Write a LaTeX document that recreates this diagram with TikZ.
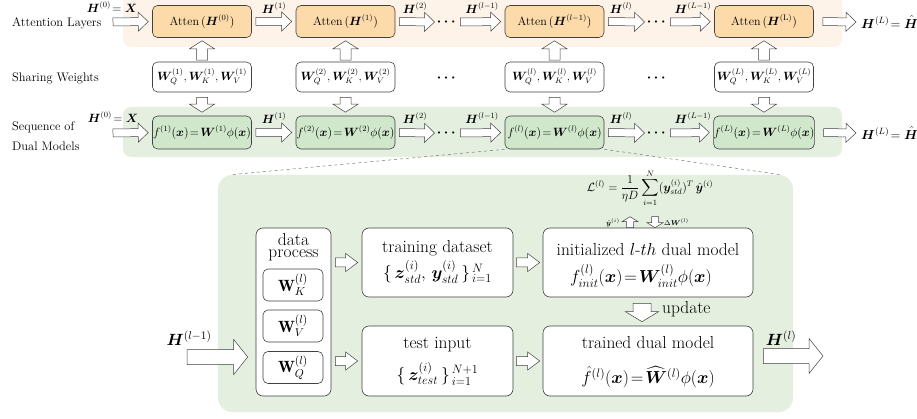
\RequirePackage{fix-cm}
\documentclass[tikz,border=0pt]{standalone}
\usepackage{amsmath,amssymb,bm}
\usepackage{fontspec}
\usetikzlibrary{calc}

\definecolor{attfill}{RGB}{252,218,170}
\definecolor{attband}{RGB}{253,243,233}
\definecolor{dualfill}{RGB}{208,231,203}
\definecolor{dualband}{RGB}{228,239,223}
\definecolor{edge}{RGB}{65,65,65}
\definecolor{dashgray}{RGB}{120,120,120}

\newcommand\rowfont{\fontsize{12.4}{14}\selectfont}
\newcommand\boxfont{\fontsize{12}{14}\selectfont}
\newcommand\panelfont{\fontsize{17.4}{20}\selectfont}
\newcommand\tinyfont{\fontsize{7}{8}\selectfont}

% hollow block arrows between two points
\pgfkeys{/fatarr/.cd,
  shaft/.store in=\faShaft, head/.store in=\faHead, len/.store in=\faLen,
  gapa/.store in=\faGapA, gapb/.store in=\faGapB,
  shaft=8pt, head=19pt, len=10pt, gapa=4pt, gapb=4pt}
\newcommand\fatarrow[3][]{%
  \begingroup
  \pgfkeys{/fatarr/.cd,#1}%
  \path ($(#2)!\faGapA!(#3)$) coordinate (fas)
        ($(#3)!\faGapB!(#2)$) coordinate (fae);
  \path ($(fae)!\faLen!(fas)$) coordinate (fam);
  \draw[fatline]
    ($(fas)!\faShaft/2!90:(fae)$) -- ($(fam)!\faShaft/2!-90:(fas)$) --
    ($(fam)!\faHead/2!-90:(fas)$) -- (fae) --
    ($(fam)!\faHead/2!90:(fas)$) -- ($(fam)!\faShaft/2!90:(fas)$) --
    ($(fas)!\faShaft/2!-90:(fae)$) -- cycle;
  \endgroup}

\tikzset{
  fatline/.style={draw=edge, fill=white, line width=0.5pt, line join=miter},
  box/.style={draw=edge, rounded corners=5pt, line width=0.6pt, inner sep=0pt, font=\boxfont},
  attbox/.style={box, fill=attfill, minimum width=99pt, minimum height=32pt},
  dualbox/.style={box, fill=dualfill, minimum width=99pt, minimum height=33pt},
  wbox/.style={box, fill=white, minimum width=99pt, minimum height=30pt},
  pbox/.style={box, fill=white, rounded corners=7pt},
  rowlabel/.style={font=\rowfont, inner sep=0pt, anchor=west},
  hlabel/.style={font=\boxfont, inner sep=0pt},
  dotnode/.style={font=\fontsize{14}{16}\selectfont, inner sep=2pt},
  ptext/.style={font=\panelfont, inner sep=0pt},
}

\begin{document}
\begin{tikzpicture}[x=1pt,y=-1pt]
\useasboundingbox (0,0) rectangle (917,419);

% background bands
\fill[attband, rounded corners=8pt] (123,-12) rectangle (842,47);
\fill[dualband, rounded corners=8pt] (123,107) rectangle (842,157);

% ---------- attention layers ----------
\node[rowlabel] (lblA) at (12,23) {Attention Layers};
\coordinate (ain) at (109,22);
\node[attbox] (a1) at (202,21.5) {Atten$\,(\bm H^{(0)})$};
\node[attbox] (a2) at (345.5,21.5) {Atten$\,(\bm H^{(1)})$};
\node[dotnode] (da1) at (447.5,22) {$\bm\cdots$};
\node[attbox] (a3) at (554.5,21.5) {Atten$\,(\bm H^{(l-1)})$};
\node[dotnode] (da2) at (657.5,22) {$\bm\cdots$};
\node[attbox] (a4) at (764,21.5) {Atten$\,(\bm H^{(\mathrm{L})})$};
\node[hlabel, anchor=west, font=\fontsize{13}{15}\selectfont] (aout) at (861,22) {$\bm H^{(L)}\!=\hat{\bm H}$};

\fatarrow{ain}{a1.west}
\fatarrow{a1.east}{a2.west}
\fatarrow[gapb=0pt]{a2.east}{da1.west}
\fatarrow[gapa=0pt]{da1.east}{a3.west}
\fatarrow[gapb=0pt]{a3.east}{da2.west}
\fatarrow[gapa=0pt]{da2.east}{a4.west}
\fatarrow[gapa=9pt,gapb=5pt]{a4.east}{aout.west}

\node[hlabel] (la0) at (112,7) {$\bm H^{(0)}\!=\bm X$};
\node[hlabel] (la1) at (274,8) {$\bm H^{(1)}$};
\node[hlabel] (la2) at (415,8) {$\bm H^{(2)}$};
\node[hlabel] (la3) at (482,8) {$\bm H^{(l-1)}$};
\node[hlabel] (la4) at (621,8) {$\bm H^{(l)}$};
\node[hlabel] (la5) at (693,8) {$\bm H^{(L-1)}$};

% ---------- sharing weights ----------
\node[rowlabel] (lblB) at (12,78) {Sharing Weights};
\node[wbox] (w1) at (202,77) {$\bm W_Q^{(1)},\bm W_K^{(1)},\bm W_V^{(1)}$};
\node[wbox] (w2) at (345.5,77) {$\bm W_Q^{(2)},\bm W_K^{(2)},\bm W_V^{(2)}$};
\node[dotnode] (dw1) at (447.5,78) {$\bm\cdots$};
\node[wbox] (w3) at (554.5,77) {$\bm W_Q^{(l)},\bm W_K^{(l)},\bm W_V^{(l)}$};
\node[dotnode] (dw2) at (657.5,78) {$\bm\cdots$};
\node[wbox] (w4) at (764,77) {$\bm W_Q^{(L)},\bm W_K^{(L)},\bm W_V^{(L)}$};

% ---------- sequence of dual models ----------
\node[rowlabel, align=left, font=\fontsize{12.4}{19.5}\selectfont] (lblC) at (12,136) {Sequence of\\Dual Models};
\coordinate (fin) at (109,133);
\node[dualbox] (f1) at (202,132.5) {$f^{(1)}(\bm x)\!=\!\bm W^{(1)}\phi(\bm x)$};
\node[dualbox] (f2) at (345.5,132.5) {$f^{(2)}(\bm x)\!=\!\bm W^{(2)}\phi(\bm x)$};
\node[dotnode] (df1) at (447.5,133) {$\bm\cdots$};
\node[dualbox] (f3) at (554.5,132.5) {$f^{(l)}(\bm x)\!=\!\bm W^{(l)}\phi(\bm x)$};
\node[dotnode] (df2) at (657.5,133) {$\bm\cdots$};
\node[dualbox] (f4) at (764,132.5) {$f^{(L)}(\bm x)\!=\!\bm W^{(L)}\phi(\bm x)$};
\node[hlabel, anchor=west, font=\fontsize{13}{15}\selectfont] (fout) at (861,133) {$\bm H^{(L)}\!=\hat{\bm H}$};

\fatarrow{fin}{f1.west}
\fatarrow{f1.east}{f2.west}
\fatarrow[gapb=0pt]{f2.east}{df1.west}
\fatarrow[gapa=0pt]{df1.east}{f3.west}
\fatarrow[gapb=0pt]{f3.east}{df2.west}
\fatarrow[gapa=0pt]{df2.east}{f4.west}
\fatarrow[gapa=9pt,gapb=5pt]{f4.east}{fout.west}

\node[hlabel] (lf0) at (113,117) {$\bm H^{(0)}\!=\bm X$};
\node[hlabel] (lf1) at (274,118) {$\bm H^{(1)}$};
\node[hlabel] (lf2) at (415,118) {$\bm H^{(2)}$};
\node[hlabel] (lf3) at (482,118) {$\bm H^{(l-1)}$};
\node[hlabel] (lf4) at (621,118) {$\bm H^{(l)}$};
\node[hlabel] (lf5) at (693,118) {$\bm H^{(L-1)}$};

% weights feed both rows
\foreach \c in {1,2,3,4}{
  \fatarrow[shaft=11pt,head=25pt,len=8pt,gapa=1.5pt,gapb=3pt]{w\c.north}{a\c.south}
  \fatarrow[shaft=11pt,head=25pt,len=8pt,gapa=5pt,gapb=3.5pt]{w\c.south}{f\c.north}
}

% ---------- detail of the l-th dual model ----------
\node[fill=dualband, rounded corners=14pt, minimum width=575pt, minimum height=237pt, inner sep=0pt] (panel) at (505.5,293.5) {};
\draw[dashgray, dashed, line width=0.5pt] (f3.south west) -- ([xshift=12pt]panel.north west);
\draw[dashgray, dashed, line width=0.5pt] (f3.south east) -- ([xshift=-12pt]panel.north east);

\node[pbox, minimum width=75pt, minimum height=168pt] (dp) at (293.5,312) {};
\node[ptext, align=center, font=\fontsize{17.4}{12.5}\selectfont] (dpt) at (293.5,247) {data\\process};
\node[pbox, rounded corners=5pt, minimum width=60pt, minimum height=32pt, font=\fontsize{16.3}{19}\selectfont] (wk) at (293,285) {$\mathbf W_K^{(l)}$};
\node[pbox, rounded corners=5pt, minimum width=60pt, minimum height=32pt, font=\fontsize{16.3}{19}\selectfont] (wv) at (293,326) {$\mathbf W_V^{(l)}$};
\node[pbox, rounded corners=5pt, minimum width=60pt, minimum height=32pt, font=\fontsize{16.3}{19}\selectfont] (wq) at (293,367.5) {$\mathbf W_Q^{(l)}$};

\node[pbox, minimum width=151pt, minimum height=69pt] (tr) at (437.5,262.5) {};
\node[ptext] (trt) at (437.5,248) {training dataset};
\node[ptext] (trs) at (437.5,272) {$\{\,\bm z_{std}^{(i)},\,\bm y_{std}^{(i)}\,\}_{\,i=1}^{\,N}$};

\node[pbox, minimum width=151pt, minimum height=70pt] (te) at (437.5,361) {};
\node[ptext] (tet) at (437.5,345) {test input};
\node[ptext] (tes) at (437.5,374) {$\{\,\bm z_{test}^{(i)}\,\}_{\,i=1}^{\,N+1}$};

\node[pbox, minimum width=210pt, minimum height=69pt] (in) at (648,262.5) {};
\node[ptext] (int) at (648,250) {initialized $l$-$th$ dual model};
\node[ptext] (inf) at (641,276) {$f_{init}^{(l)}(\bm x)\!=\!\bm W_{init}^{(l)}\phi(\bm x)$};

\node[pbox, minimum width=210pt, minimum height=70pt] (td) at (648,361) {};
\node[ptext] (tdt) at (648,343) {trained dual model};
\node[ptext] (tdf) at (648,377) {$\hat f^{(l)}(\bm x)\!=\!\widehat{\bm W}^{(l)}\phi(\bm x)$};

\node[font=\fontsize{12}{14}\selectfont, inner sep=0pt] (loss) at (650,188)
  {$\mathcal L^{(l)}=\dfrac{1}{\eta D}\displaystyle\sum_{i=1}^{N}(\bm y_{std}^{(i)})^{T}\,\hat{\bm y}^{(i)}$};

\fatarrow[shaft=7pt,head=16pt,len=5pt,gapa=0pt,gapb=0pt]{[xshift=-18pt]in.north}{[xshift=-18pt,yshift=11pt]in.north}
\fatarrow[shaft=7pt,head=16pt,len=5pt,gapa=0pt,gapb=0pt]{[xshift=7pt,yshift=11pt]in.north}{[xshift=7pt]in.north}
\node[font=\tinyfont, inner sep=0pt] (yl) at (613,223) {$\hat{\bm y}^{(i)}$};
\node[font=\tinyfont, inner sep=0pt, anchor=west] (dwl) at (664,222) {$\Delta\bm W^{(l)}$};

\fatarrow[shaft=9pt,head=18pt,len=12pt,gapa=4pt,gapb=4pt]{dp.east |- tr.west}{tr.west}
\fatarrow[shaft=9pt,head=18pt,len=12pt,gapa=4pt,gapb=4pt]{dp.east |- te.west}{te.west}
\fatarrow[shaft=9pt,head=18pt,len=12pt,gapa=3pt,gapb=3pt]{tr.east}{in.west}
\fatarrow[shaft=9pt,head=18pt,len=12pt,gapa=3pt,gapb=3pt]{te.east}{td.west}
\fatarrow[shaft=18pt,head=33pt,len=10pt,gapa=6pt,gapb=4pt]{[xshift=-6pt]in.south}{[xshift=-6pt]td.north}
\node[ptext, anchor=west] (upd) at (662,309) {update};

\coordinate (hin) at (187,357);
\fatarrow[shaft=15pt,head=35pt,len=14pt,gapa=0pt,gapb=8pt]{hin}{dp.west |- hin}
\node[font=\fontsize{16.3}{19}\selectfont, inner sep=0pt] (hinl) at (189,338) {$\bm H^{(l-1)}$};

\coordinate (hout) at (823,356);
\fatarrow[shaft=15pt,head=35pt,len=14pt,gapa=10pt,gapb=0pt]{td.east |- hout}{hout}
\node[font=\fontsize{16.3}{19}\selectfont, inner sep=0pt] (houtl) at (781,338) {$\bm H^{(l)}$};

\end{tikzpicture}
\end{document}
